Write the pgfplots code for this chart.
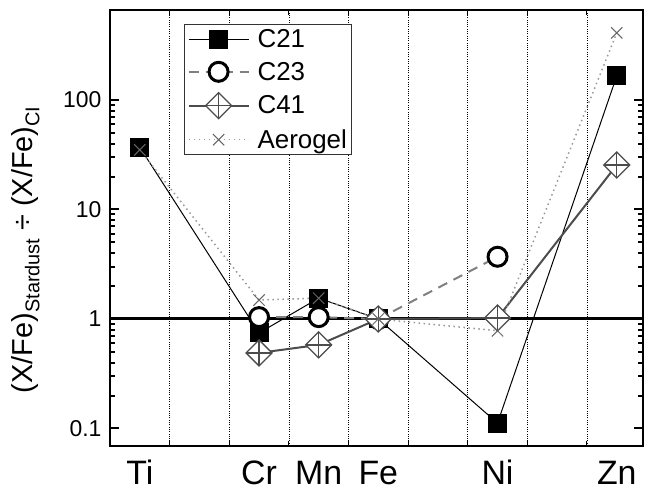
\documentclass[border=0pt]{standalone}
\usepackage{fontspec}
\setmainfont{Liberation Sans}
\usepackage{pgfplots}
\pgfplotsset{compat=1.18}
\pgfdeclareplotmark{dplus}{%
  \pgfpathmoveto{\pgfqpoint{0pt}{\pgfplotmarksize}}%
  \pgfpathlineto{\pgfqpoint{\pgfplotmarksize}{0pt}}%
  \pgfpathlineto{\pgfqpoint{0pt}{-\pgfplotmarksize}}%
  \pgfpathlineto{\pgfqpoint{-\pgfplotmarksize}{0pt}}%
  \pgfpathclose
  \pgfusepathqfillstroke
  \pgfpathmoveto{\pgfqpoint{0pt}{\pgfplotmarksize}}%
  \pgfpathlineto{\pgfqpoint{0pt}{-\pgfplotmarksize}}%
  \pgfpathmoveto{\pgfqpoint{\pgfplotmarksize}{0pt}}%
  \pgfpathlineto{\pgfqpoint{-\pgfplotmarksize}{0pt}}%
  \pgfusepathqstroke
}
\begin{document}
\begin{tikzpicture}
\useasboundingbox (0,0) rectangle (645bp,497bp);
\begin{axis}[
  at={(110bp,51bp)}, anchor=south west,
  scale only axis, width=533bp, height=436bp,
  xmin=21.5, xmax=30.44,
  ymode=log, ymin=0.0692, ymax=663,
  xtick={22,24,25,26,28,30},
  xticklabels={Ti,Cr,Mn,Fe,Ni,Zn},
  minor xtick={22.5,23.5,...,29.5},
  xminorgrids,
  minor x grid style={black, line width=0.6bp, dash pattern=on 1bp off 1.3bp},
  every major x tick/.style={draw=none},
  ytick={0.1,1,10,100},
  yticklabels={0.1,1,10,100},
  major tick length=9bp, minor tick length=5bp,
  every tick/.style={black, line width=2bp},
  every minor x tick/.style={black, line width=1bp},
  axis line style={line width=2.5bp},
  xticklabel style={font=\fontsize{34}{36}\selectfont, anchor=base, yshift=-38bp},
  yticklabel style={font=\fontsize{23}{26}\selectfont, xshift=-5bp},
  ylabel={(X/Fe)\raisebox{-0.22em}{\fontsize{20}{22}\selectfont Stardust} ÷ (X/Fe)\raisebox{-0.22em}{\fontsize{20}{22}\selectfont CI}},
  ylabel style={font=\fontsize{29}{30}\selectfont, at={(axis description cs:-0.1445,0.45)}, anchor=base, rotate=0},
  legend style={at={(axis description cs:0.139,0.968)}, anchor=north west,
    font=\fontsize{26}{28}\selectfont, draw=black!80, line width=1bp,
    inner xsep=3bp, inner ysep=3bp, row sep=9bp, column sep=6bp, cells={anchor=west}},
  legend image code/.code={\draw[mark repeat=2,mark phase=2,#1] plot coordinates {(0bp,0bp) (30bp,0bp) (60bp,0bp)};},
  legend cell align=left,
]
\addplot[black, line width=3bp, forget plot] coordinates {(21.5,1) (30.44,1)};
\addplot[black, line width=1bp, mark=square*, mark size=9bp, mark options={solid, fill=black}]
  coordinates {(22,37) (24,0.745) (25,1.55) (26,1) (28,0.112) (30,166)};
\addlegendentry{C21}
\addplot[black!50, line width=2bp, dash pattern=on 10bp off 7bp, mark=*, mark size=9.5bp, mark options={solid, draw=black, fill=white, line width=3bp}]
  coordinates {(24,1.04) (25,1.04) (26,1) (28,3.7)};
\addlegendentry{C23}
\addplot[black!70, line width=2bp, mark=dplus, mark size=13bp, mark options={solid, draw=black!70, fill=white, line width=1.3bp}]
  coordinates {(24,0.49) (25,0.58) (26,1) (28,1.02) (30,25.5)};
\addlegendentry{C41}
\addplot[black!40, line width=1.5bp, dash pattern=on 1.5bp off 3.5bp, mark=x, mark size=8bp, mark options={solid, draw=black!60, line width=1bp}]
  coordinates {(22,35) (24,1.49) (25,1.55) (26,1) (28,0.78) (30,410)};
\addlegendentry{Aerogel}
\end{axis}
\end{tikzpicture}
\end{document}
